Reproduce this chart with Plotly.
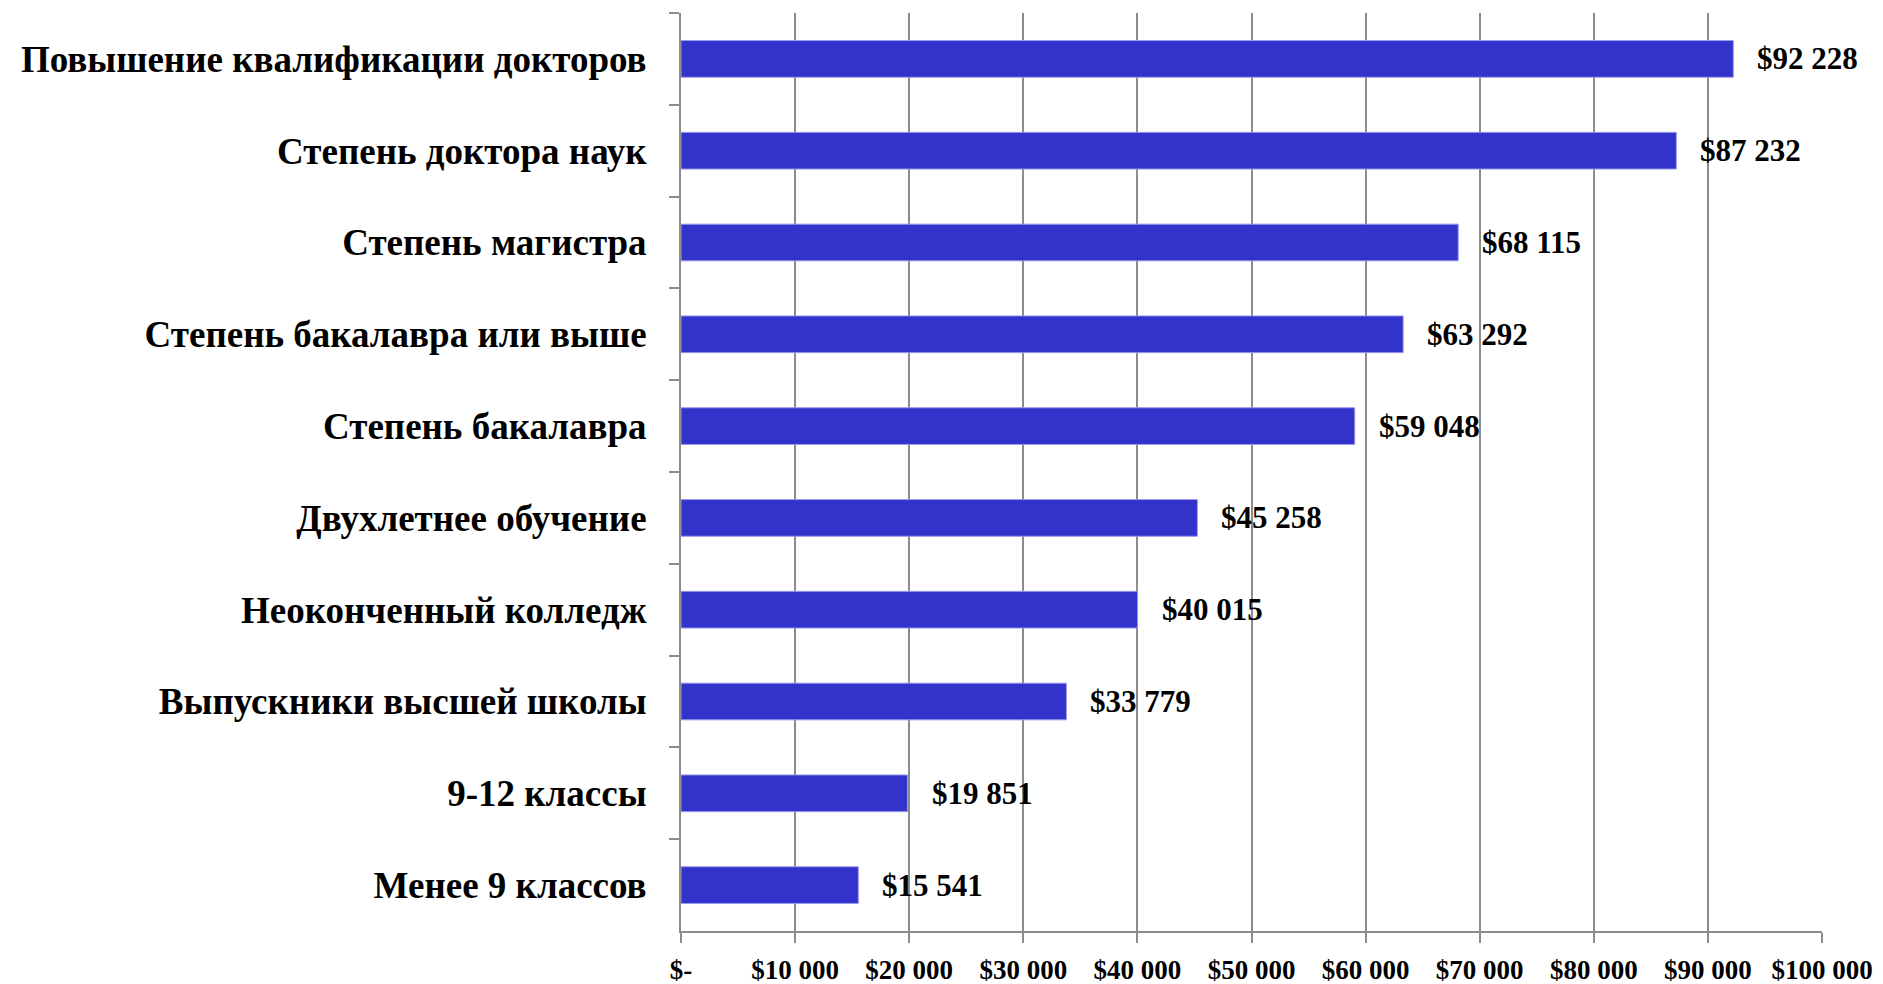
import plotly.graph_objects as go

categories = [
    "Повышение квалификации докторов",
    "Степень доктора наук",
    "Степень магистра",
    "Степень бакалавра или выше",
    "Степень бакалавра",
    "Двухлетнее обучение",
    "Неоконченный колледж",
    "Выпускники высшей школы",
    "9-12 классы",
    "Менее 9 классов",
]
values = [92228, 87232, 68115, 63292, 59048, 45258, 40015, 33779, 19851, 15541]
value_labels = ["$92 228", "$87 232", "$68 115", "$63 292", "$59 048",
                "$45 258", "$40 015", "$33 779", "$19 851", "$15 541"]
tick_vals = [0, 10000, 20000, 30000, 40000, 50000, 60000, 70000, 80000, 90000, 100000]
tick_text = ["$-", "$10 000", "$20 000", "$30 000", "$40 000", "$50 000",
             "$60 000", "$70 000", "$80 000", "$90 000", "$100 000"]

FONT = "Liberation Serif, Times New Roman, serif"

fig = go.Figure()
fig.add_trace(go.Bar(
    x=values, y=categories, orientation="h",
    marker=dict(color="#3333CC", line=dict(color="#9999EE", width=1)),
    width=0.4,
))

for v, c, t in zip(values, categories, value_labels):
    fig.add_annotation(x=v, y=c, text=t, showarrow=False, xanchor="left",
                       yanchor="middle", xshift=22,
                       font=dict(family=FONT, size=31, color="black", weight="bold"))

fig.update_layout(
    width=1875, height=976,
    margin=dict(l=673, r=61, t=5, b=53),
    plot_bgcolor="white", paper_bgcolor="white",
    showlegend=False,
    bargap=0.6,
)
fig.update_xaxes(
    range=[0, 100000], tickvals=tick_vals, ticktext=tick_text,
    showgrid=True, gridcolor="#8C8C8C", gridwidth=2,
    showline=True, linecolor="#8C8C8C", linewidth=2,
    ticks="outside", ticklen=10, tickcolor="#8C8C8C", tickwidth=2,
    tickfont=dict(family=FONT, size=27, color="black", weight="bold"),
    ticklabelstandoff=4,
    zeroline=False, automargin=False,
)
fig.update_yaxes(
    autorange="reversed",
    showline=True, linecolor="#8C8C8C", linewidth=2,
    ticks="outside", ticklen=10, tickcolor="#8C8C8C", tickwidth=2,
    tickson="boundaries",
    tickfont=dict(family=FONT, size=37, color="black", weight="bold"),
    ticklabelstandoff=25,
    showgrid=False, automargin=False,
)
fig.write_html("out.html")
